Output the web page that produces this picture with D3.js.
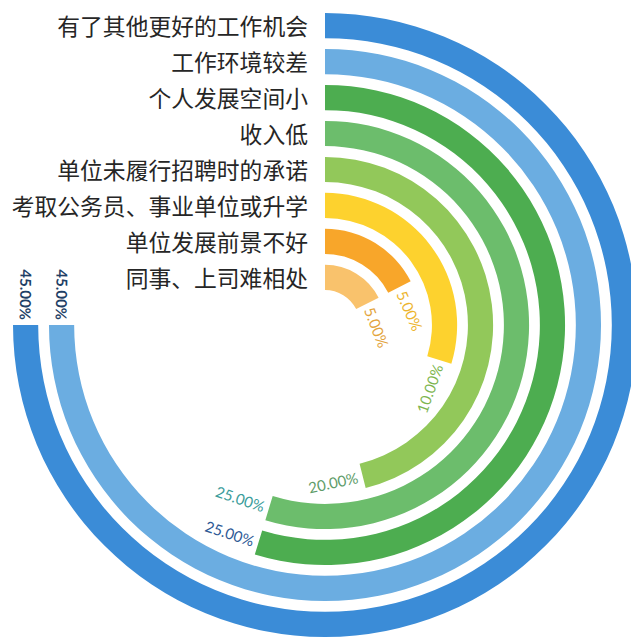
<!DOCTYPE html>
<html>
<head>
<meta charset="utf-8">
<script src="https://cdn.jsdelivr.net/npm/d3@7"></script>
<style>
  html, body { margin: 0; padding: 0; background: #ffffff; }
  svg { display: block; }
</style>
</head>
<body>
<svg id="chart" width="631" height="637"></svg>
<script>
// Categories from innermost ring to outermost ring
const categories = [
  "同事、上司难相处",
  "单位发展前景不好",
  "考取公务员、事业单位或升学",
  "单位未履行招聘时的承诺",
  "收入低",
  "个人发展空间小",
  "工作环境较差",
  "有了其他更好的工作机会"
];
const values = [5, 5, 10, 20, 25, 25, 45, 45];
const valueLabels = ["5.00%", "5.00%", "10.00%", "20.00%", "25.00%", "25.00%", "45.00%", "45.00%"];
const ringColors = ["#F9C26C", "#F8A62A", "#FDD22E", "#92C85A", "#6CBD6C", "#4DAD50", "#6BADE1", "#3B8CD7"];
const labelColors = ["#E3A43C", "#EDB52E", "#7DB54E", "#5E9C69", "#3A9C9A", "#2E5A96", "#1F3F66", "#1F3F66"];
const labelWeights = ["normal", "normal", "normal", "normal", "normal", "normal", "bold", "bold"];

const svg = d3.select("#chart");
const cx = 325, cy = 325;

const rScale = d3.scaleBand()
  .domain(categories)
  .range([35, 312])
  .paddingInner(0.3)
  .paddingOuter(0);

// Angular scale as drawn in the original (non-linear), degrees
const deg = Math.PI / 180;
const aScale = d3.scaleLinear()
  .domain([0, 5, 10, 20, 25, 45])
  .range([0, 63 * deg, 107 * deg, 166 * deg, 197 * deg, 270 * deg]);

const data = categories.map((c, i) => ({
  cat: c, value: values[i], label: valueLabels[i],
  color: ringColors[i], lcolor: labelColors[i], lweight: labelWeights[i]
}));

const arc = d3.arc()
  .innerRadius(d => rScale(d.cat))
  .outerRadius(d => rScale(d.cat) + rScale.bandwidth())
  .startAngle(0)
  .endAngle(d => aScale(d.value));

const g = svg.append("g").attr("transform", `translate(${cx},${cy})`);

g.selectAll("path.ring")
  .data(data)
  .join("path")
  .attr("class", "ring")
  .attr("d", arc)
  .attr("fill", d => d.color);

// Category labels, right-aligned at the ring starts
svg.append("g").selectAll("text.cat")
  .data(data)
  .join("text")
  .attr("class", "cat")
  .attr("x", cx - 17)
  .attr("y", d => cy - (rScale(d.cat) + rScale.bandwidth() / 2))
  .attr("text-anchor", "end")
  .attr("dominant-baseline", "central")
  .attr("font-family", "'Noto Sans CJK SC', sans-serif")
  .attr("font-size", 22.8)
  .attr("fill", "#262626")
  .text(d => d.cat);

// Value labels at the arc ends, along the tangent
g.selectAll("text.val")
  .data(data)
  .join("text")
  .attr("class", "val")
  .each(function(d) {
    const rc = rScale(d.cat) + rScale.bandwidth() / 2;
    const phi = aScale(d.value) + 5 / rc;
    const x = rc * Math.sin(phi);
    const y = -rc * Math.cos(phi);
    let rot = phi * 180 / Math.PI - 180;
    let anchor = "end";
    if (rot < -90) { rot += 180; anchor = "start"; }
    d3.select(this)
      .attr("transform", `translate(${x},${y}) rotate(${rot})`)
      .attr("text-anchor", anchor);
  })
  .attr("dominant-baseline", "central")
  .attr("font-family", "Lato, 'Open Sans', sans-serif")
  .attr("font-size", 15)
  .attr("font-weight", d => d.lweight)
  .attr("fill", d => d.lcolor)
  .text(d => d.label);
</script>
</body>
</html>
